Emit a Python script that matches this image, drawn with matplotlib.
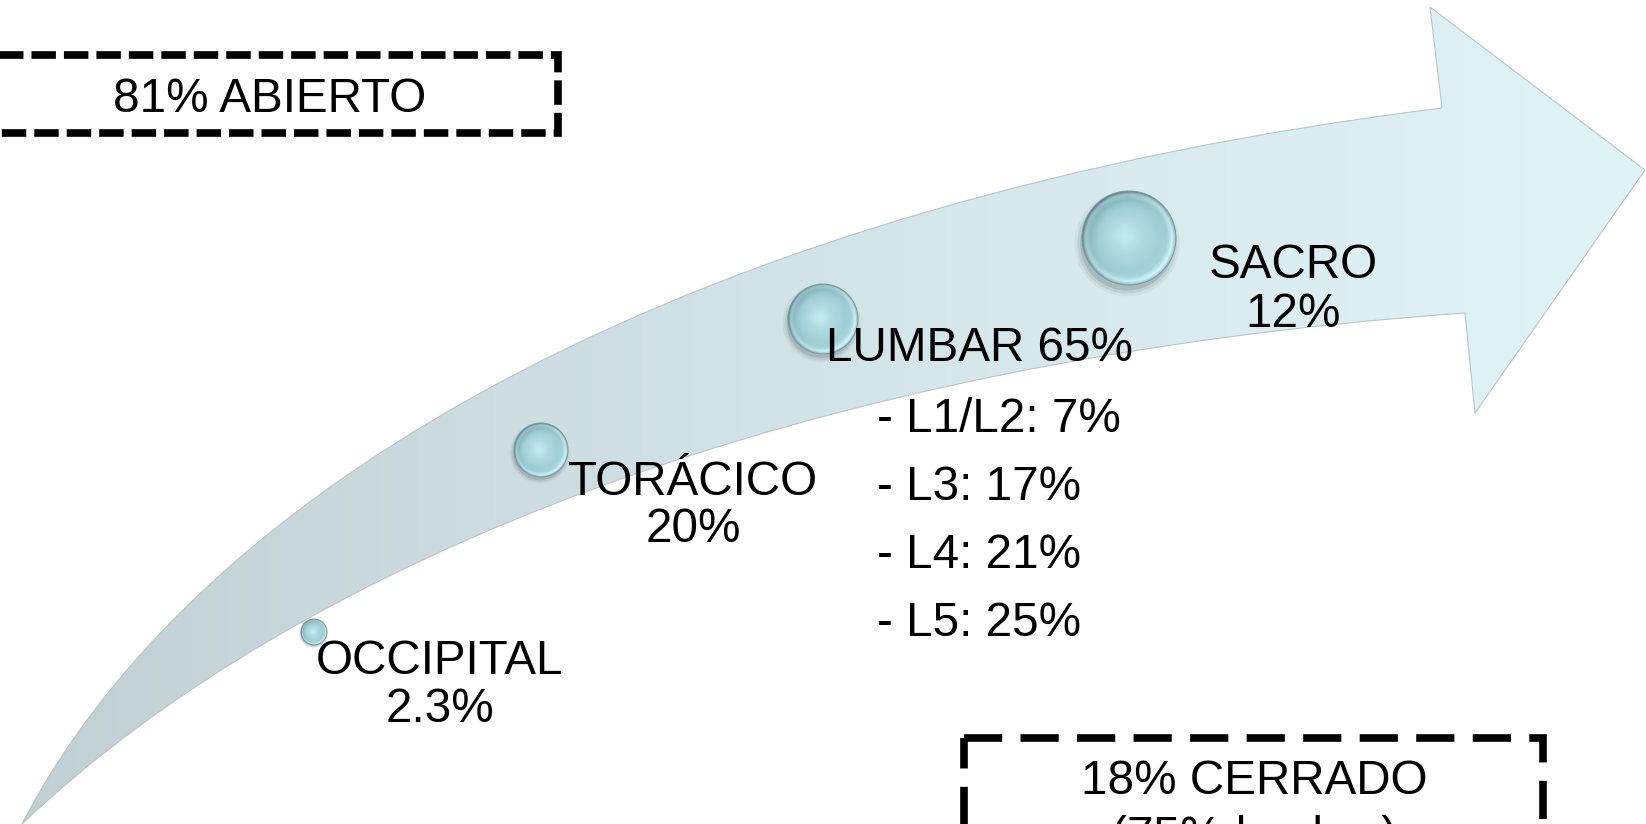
import numpy as np
import matplotlib
matplotlib.use('Agg')
import matplotlib.pyplot as plt
from matplotlib.path import Path
from matplotlib.patches import PathPatch, Circle, Rectangle
from matplotlib.colors import to_rgb

plt.rcParams['font.family'] = ['Liberation Sans', 'DejaVu Sans']

# distribution by level
regions = ['OCCIPITAL', 'TORÁCICO', 'LUMBAR', 'SACRO']
region_pct = [2.3, 20, 65, 12]
lumbar_levels = ['L1/L2', 'L3', 'L4', 'L5']
lumbar_pct = [7, 17, 21, 25]
open_pct = 81
closed_pct = 18
closed_lumbar_pct = 75

W, H = 1646, 824
FS = 34.3

# layout (pixel coords, y down)
bead_xy = [(314, 632), (541, 450), (823, 319), (1129, 238)]
bead_r = [13, 27, 35, 47]
label_xy = [(440, 661), (693, 482), (826, 348), (1293, 266)]
two_line = [True, True, False, True]
sub_x, sub_y0, sub_dy = 877, 419, 68.2

fig = plt.figure(figsize=(W / 100, H / 100), dpi=100)
ax = fig.add_axes([0, 0, 1, 1])


def hexes(cs):
    return np.array([to_rgb(c) for c in cs])


# curved arrow outline
tail = (22, 824)
up_c1, up_c2, up_end = (200, 480), (700, 200), (1442, 108)
head = [(1430, 7), (1645, 170), (1475, 413)]
lo_start, lo_c2, lo_c1 = (1465, 313), (800, 360), (300, 560)
verts = [tail, up_c1, up_c2, up_end] + head + [lo_start, lo_c2, lo_c1, tail, tail]
codes = [Path.MOVETO, Path.CURVE4, Path.CURVE4, Path.CURVE4,
         Path.LINETO, Path.LINETO, Path.LINETO, Path.LINETO,
         Path.CURVE4, Path.CURVE4, Path.CURVE4, Path.CLOSEPOLY]
arrow = PathPatch(Path(verts, codes), fc='none', ec='#b7c6c9', lw=0.8, zorder=2)
ax.add_patch(arrow)

gx = np.linspace(0, 1, 600)
stops = [0, 0.3, 0.6, 1.0]
cols = hexes(['#c0cfd2', '#ccdce0', '#d6e8ec', '#e0f3f6'])
grad = np.stack([np.interp(gx, stops, cols[:, k]) for k in range(3)], axis=-1)[None, :, :]
im = ax.imshow(grad, extent=[0, W, H, 0], aspect='auto', interpolation='bilinear', zorder=1)
im.set_clip_path(arrow)


def bead(cx, cy, r):
    # soft drop shadow
    for k, a in [(1.12, 0.07), (1.06, 0.12), (1.0, 0.20)]:
        ax.add_patch(Circle((cx - 0.04 * r, cy + 0.12 * r), r * k, fc='#56666a',
                            ec='none', alpha=a, zorder=3))
    n = 200
    u = np.linspace(-1, 1, n)
    X, Y = np.meshgrid(u, u)
    d = np.hypot(X, Y)
    st = [0, 0.55, 0.82, 0.93, 1.0]
    cc = hexes(['#b3dce1', '#a6d3d9', '#98c8ce', '#b8dde2', '#779fa4'])
    img = np.stack([np.interp(d, st, cc[:, k]) for k in range(3)], axis=-1)
    rim = np.clip((d - 0.65) / 0.35, 0, 1)
    dirn = (X + Y) / np.sqrt(2)
    img += (rim * 0.14 * np.clip(dirn, 0, 1))[..., None]
    img -= (rim * 0.16 * np.clip(-dirn, 0, 1))[..., None]
    img += (0.06 * np.exp(-((X + 0.1) ** 2 + (Y + 0.05) ** 2) / 0.10))[..., None]
    img = np.clip(img, 0, 1)
    bim = ax.imshow(img, extent=[cx - r, cx + r, cy + r, cy - r], interpolation='bilinear', zorder=4)
    clip = Circle((cx, cy), r, fc='none', ec='none')
    ax.add_patch(clip)
    bim.set_clip_path(clip)
    ax.add_patch(Circle((cx, cy), r, fc='none', ec='#7a9a9e', lw=0.7, zorder=5))


for (cx, cy), r in zip(bead_xy, bead_r):
    bead(cx, cy, r)

# labels along the arrow
for name, pct, (x, y), two in zip(regions, region_pct, label_xy, two_line):
    if two:
        ax.text(x, y, name, fontsize=FS, ha='center', va='center', zorder=6)
        ax.text(x, y + 48, f'{pct:g}%', fontsize=FS, ha='center', va='center', zorder=6)
    else:
        ax.text(x, y, f'{name} {pct:g}%', fontsize=FS, ha='left', va='center', zorder=6)

for i, (lv, p) in enumerate(zip(lumbar_levels, lumbar_pct)):
    ax.text(sub_x, sub_y0 + i * sub_dy, f'- {lv}: {p}%', fontsize=FS,
            ha='left', va='center', zorder=6)

# dashed boxes
ax.add_patch(Rectangle((-18, 55), 576, 78, fill=False, ec='black', lw=5.5,
                       ls=(0, (3.2, 1.05)), joinstyle='miter', zorder=6))
ax.text(270, 99, f'{open_pct}% ABIERTO', fontsize=FS, ha='center', va='center', zorder=7)

ax.add_patch(Rectangle((964, 738), 579, 133, fill=False, ec='black', lw=5.5,
                       ls=(0, (5, 2.4)), joinstyle='miter', zorder=6))
ax.text(1254, 781, f'{closed_pct}% CERRADO', fontsize=FS, ha='center', va='center', zorder=7)
ax.text(1254, 838, f'({closed_lumbar_pct}% lumbar)', fontsize=FS, ha='center', va='center', zorder=7)

ax.set_xlim(0, W)
ax.set_ylim(H, 0)
ax.axis('off')

fig.savefig('out.png', dpi=100, facecolor='white')
